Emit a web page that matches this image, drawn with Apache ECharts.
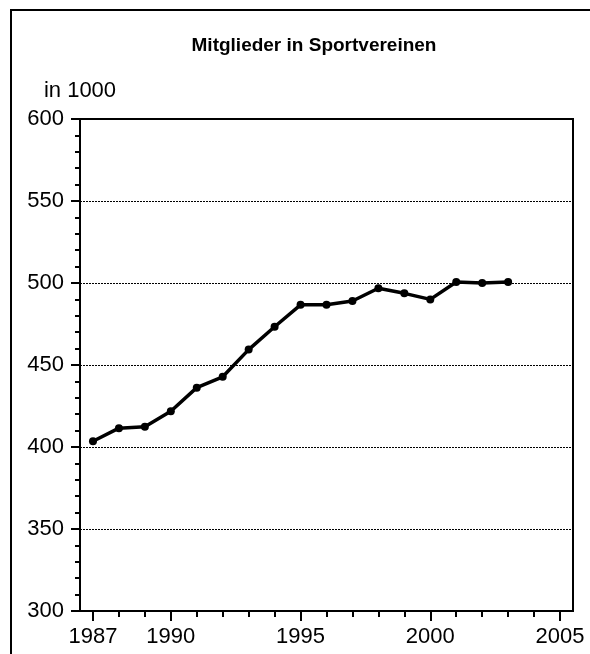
<!DOCTYPE html>
<html>
<head>
<meta charset="utf-8">
<script src="https://cdn.jsdelivr.net/npm/echarts@6/dist/echarts.min.js"></script>
<style>
  html, body { margin: 0; padding: 0; background: #fff; }
  #frame {
    position: absolute; left: 10px; top: 9px; width: 600px; height: 700px;
    border-left: 2px solid #000; border-top: 2px solid #000;
  }
  #chart { position: absolute; left: 0; top: 0; width: 590px; height: 654px; }
</style>
</head>
<body>
<div id="frame"></div>
<div id="chart"></div>
<script>
// Mitglieder in Sportvereinen (in 1000)
const years = [1987, 1988, 1989, 1990, 1991, 1992, 1993, 1994, 1995,
               1996, 1997, 1998, 1999, 2000, 2001, 2002, 2003];
const members = [403.5, 411.5, 412.3, 421.8, 436.2, 442.8, 459.4, 473.3, 486.7,
                 486.8, 489.0, 496.8, 493.7, 490.0, 500.6, 500.0, 500.6];
const xLabelYears = [1987, 1990, 1995, 2000, 2005];
const xTickYears = [1987, 1988, 1989, 1990, 1991, 1992, 1993, 1994, 1995, 1996,
                    1997, 1998, 1999, 2000, 2001, 2002, 2003, 2004, 2005];

const font = '"Liberation Sans", Arial, sans-serif';

const chart = echarts.init(document.getElementById("chart"));
chart.setOption({
    animation: false,
    backgroundColor: "transparent",
    title: {
        text: "Mitglieder in Sportvereinen",
        left: 309,
        top: 31,
        textAlign: "center",
        textStyle: { fontFamily: font, fontSize: 19, fontWeight: "bold", color: "#000" },
    },
    grid: {
        left: 80, right: 17, top: 119, bottom: 43,
        show: true, borderColor: "#000", borderWidth: 2,
        outerBoundsMode: "none",
    },
    xAxis: [
        {
            type: "value",
            min: 1986.5,
            max: 2005.5,
            splitLine: { show: false },
            axisLine: { lineStyle: { color: "#000", width: 2 } },
            axisTick: { show: true, length: 6, lineStyle: { color: "#000", width: 2 }, customValues: xTickYears },
            axisLabel: {
                customValues: xLabelYears,
                margin: 15,
                color: "#000", fontFamily: font, fontSize: 22,
                formatter: (v) => String(v),
            },
        },
        {
            type: "value",
            position: "bottom",
            min: 1986.5,
            max: 2005.5,
            splitLine: { show: false },
            axisLine: { show: false },
            axisTick: { show: true, length: 10, lineStyle: { color: "#000", width: 2 }, customValues: xLabelYears },
            axisLabel: { show: false },
        },
    ],
    yAxis: {
        type: "value",
        min: 300,
        max: 600,
        interval: 50,
        name: "in 1000",
        nameLocation: "end",
        nameGap: 17,
        nameTextStyle: { color: "#000", fontFamily: font, fontSize: 22, align: "center" },
        axisLine: { show: true, lineStyle: { color: "#000", width: 2 } },
        axisTick: { show: true, length: 9, lineStyle: { color: "#000", width: 2 } },
        minorTick: { show: true, splitNumber: 5, length: 5, lineStyle: { color: "#000", width: 2 } },
        axisLabel: { margin: 16, color: "#000", fontFamily: font, fontSize: 22 },
        splitLine: { show: true, lineStyle: { color: "#000", width: 1, type: [2, 1] } },
    },
    series: [
        {
            type: "line",
            data: years.map((y, i) => [y, members[i]]),
            symbol: "circle",
            symbolSize: 8,
            lineStyle: { color: "#000", width: 3.5 },
            itemStyle: { color: "#000" },
        },
    ],
});
</script>
</body>
</html>
